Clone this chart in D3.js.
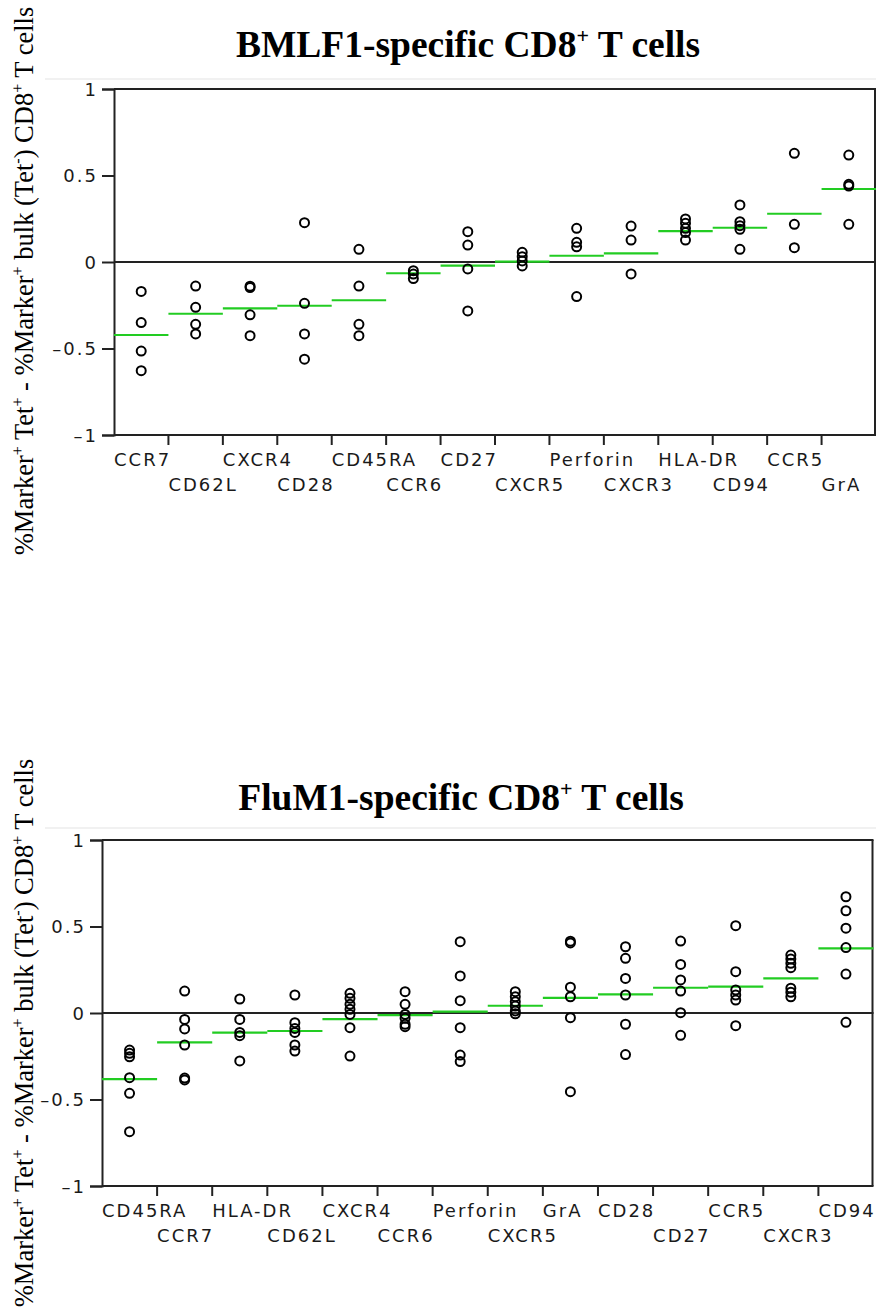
<!DOCTYPE html>
<html>
<head>
<meta charset="utf-8">
<script src="https://cdn.jsdelivr.net/npm/d3@7"></script>
<style>
  body { margin: 0; background: #fff; }
  svg { display: block; }
  .tick-label { font-family: "DejaVu Sans", sans-serif; font-size: 18px; letter-spacing: 2px; fill: #1a1a1a; }
  .title { font-family: "Liberation Serif", serif; font-weight: bold; font-size: 37.5px; fill: #000; }
  .ytitle { font-family: "Liberation Serif", serif; font-size: 26.5px; fill: #000; }
</style>
</head>
<body>
<div id="chart"></div>
<script>
// BMLF1 panel
const bmlfMarkers = ["CCR7", "CD62L", "CXCR4", "CD28", "CD45RA", "CCR6", "CD27", "CXCR5", "Perforin", "CXCR3", "HLA-DR", "CD94", "CCR5", "GrA"];
const bmlfValues = [
    [-0.17, -0.35, -0.515, -0.628],
    [-0.139, -0.262, -0.36, -0.416],
    [-0.14, -0.148, -0.305, -0.426],
    [0.227, -0.239, -0.416, -0.562],
    [0.073, -0.139, -0.36, -0.426],
    [-0.05, -0.07, -0.096],
    [0.175, 0.098, -0.04, -0.283],
    [0.056, 0.031, 0.006, -0.023],
    [0.195, 0.114, 0.088, -0.2],
    [0.208, 0.127, -0.069],
    [0.249, 0.224, 0.195, 0.17, 0.127],
    [0.33, 0.233, 0.21, 0.189, 0.073],
    [0.628, 0.218, 0.083],
    [0.618, 0.449, 0.439, 0.218]
];
const bmlfMeans = [-0.422, -0.299, -0.268, -0.253, -0.221, -0.065, -0.021, 0.002, 0.036, 0.05, 0.179, 0.198, 0.279, 0.422];

// FluM1 panel
const fluMarkers = ["CD45RA", "CCR7", "HLA-DR", "CD62L", "CXCR4", "CCR6", "Perforin", "CXCR5", "GrA", "CD28", "CD27", "CCR5", "CXCR3", "CD94"];
const fluValues = [
    [-0.214, -0.233, -0.253, -0.374, -0.464, -0.686],
    [0.127, -0.037, -0.092, -0.185, -0.376, -0.387],
    [0.081, -0.037, -0.112, -0.131, -0.277],
    [0.104, -0.056, -0.089, -0.112, -0.185, -0.22],
    [0.114, 0.085, 0.05, 0.021, -0.008, -0.085, -0.249],
    [0.123, 0.05, -0.008, -0.031, -0.065, -0.079],
    [0.412, 0.214, 0.071, -0.085, -0.243, -0.281],
    [0.123, 0.094, 0.065, 0.04, 0.012, -0.005],
    [0.415, 0.405, 0.149, 0.094, -0.027, -0.455],
    [0.383, 0.316, 0.2, 0.104, -0.065, -0.24],
    [0.416, 0.281, 0.191, 0.127, 0.002, -0.129],
    [0.505, 0.239, 0.133, 0.104, 0.075, -0.073],
    [0.335, 0.312, 0.287, 0.262, 0.143, 0.12, 0.094],
    [0.672, 0.591, 0.49, 0.378, 0.225, -0.054]
];
const fluMeans = [-0.382, -0.17, -0.114, -0.104, -0.035, -0.012, 0.008, 0.042, 0.088, 0.108, 0.146, 0.152, 0.2, 0.374];

const yTicks = [-1, -0.5, 0, 0.5, 1];
const yTitleParts = [
    { t: "%Marker" }, { t: "+", sup: true }, { t: " Tet" }, { t: "+", sup: true },
    { t: " - %Marker" }, { t: "+", sup: true }, { t: " bulk (Tet" }, { t: "-", sup: true },
    { t: ") CD8" }, { t: "+", sup: true }, { t: " T cells" }
];

const panels = [
    { name: "BMLF1", markers: bmlfMarkers, values: bmlfValues, means: bmlfMeans,
      left: 114, right: 876, top: 89, bottom: 435, titleX: 468, titleY: 57, yTitleY: 281, ghostY: 79 },
    { name: "FluM1", markers: fluMarkers, values: fluValues, means: fluMeans,
      left: 102, right: 873.5, top: 840, bottom: 1186, titleX: 461, titleY: 810, yTitleY: 1033, ghostY: 828 }
];

const svg = d3.select("#chart").append("svg")
    .attr("width", 876)
    .attr("height", 1313);

// tekst met superscript stukjes
function richText(sel, parts, supSize, lift) {
    let up = false;
    parts.forEach(p => {
        const ts = sel.append("tspan").text(p.t);
        if (p.sup && !up) { ts.attr("dy", -lift).attr("font-size", supSize); up = true; }
        else if (!p.sup && up) { ts.attr("dy", lift); up = false; }
    });
}

function drawPanel(p) {
    const g = svg.append("g");
    const x = d3.scaleBand().domain(p.markers).range([p.left, p.right]).padding(0);
    const y = d3.scaleLinear().domain([-1, 1]).range([p.bottom, p.top]);

    // vage lijn boven het kader
    g.append("line")
        .attr("x1", 45).attr("x2", 876)
        .attr("y1", p.ghostY).attr("y2", p.ghostY)
        .attr("stroke", "#f1f1f1").attr("stroke-width", 2);

    // titel
    const title = g.append("text")
        .attr("class", "title")
        .attr("x", p.titleX).attr("y", p.titleY)
        .attr("text-anchor", "middle");
    richText(title, [{ t: p.name + "-specific CD8" }, { t: "+", sup: true }, { t: " T cells" }], "22px", 14);

    // y-as titel
    const yt = g.append("text")
        .attr("class", "ytitle")
        .attr("text-anchor", "middle")
        .attr("transform", `translate(33,${p.yTitleY}) rotate(-90)`);
    richText(yt, yTitleParts, "16px", 10);

    // kader
    g.append("line").attr("x1", p.left).attr("x2", p.right).attr("y1", p.top).attr("y2", p.top)
        .attr("stroke", "#222").attr("stroke-width", 2);
    g.append("line").attr("x1", p.right - 1).attr("x2", p.right - 1).attr("y1", p.top).attr("y2", p.bottom)
        .attr("stroke", "#222").attr("stroke-width", 2);

    // y-as
    const yAxis = g.append("g")
        .attr("transform", `translate(${p.left},0)`)
        .call(d3.axisLeft(y).tickValues(yTicks).tickSize(12).tickPadding(4)
            .tickFormat(d => d3.format("")(d).replace("-", "\u2013").replace("\u2212", "\u2013")));
    yAxis.select(".domain").attr("stroke", "#222").attr("stroke-width", 2);
    yAxis.selectAll(".tick line").attr("stroke", "#222").attr("stroke-width", 2);
    yAxis.selectAll(".tick text").attr("class", "tick-label").attr("font-size", null).attr("font-family", null)
        .attr("fill", null).attr("dy", "0.36em");

    // x-as
    g.append("line").attr("x1", p.left).attr("x2", p.right).attr("y1", p.bottom).attr("y2", p.bottom)
        .attr("stroke", "#222").attr("stroke-width", 2);
    g.selectAll(".xtick")
        .data(p.markers.slice(1))
        .enter()
        .append("line")
        .attr("x1", d => x(d)).attr("x2", d => x(d))
        .attr("y1", p.bottom).attr("y2", p.bottom + 10)
        .attr("stroke", "#222").attr("stroke-width", 2);

    // labels: eerste rij als het past, anders tweede rij
    const rowEnd = [-Infinity, -Infinity];
    g.selectAll(".xlabel")
        .data(p.markers)
        .enter()
        .append("text")
        .attr("class", "tick-label")
        .attr("x", d => x(d))
        .text(d => d)
        .each(function (d) {
            const x0 = x(d);
            const w = this.getComputedTextLength();
            const row = x0 >= rowEnd[0] ? 0 : 1;
            rowEnd[row] = x0 + w;
            d3.select(this).attr("y", p.bottom + (row === 0 ? 31 : 56));
        });

    // nullijn
    g.append("line").attr("x1", p.left).attr("x2", p.right).attr("y1", y(0)).attr("y2", y(0))
        .attr("stroke", "#222").attr("stroke-width", 2);

    // gemiddelden
    g.selectAll(".mean")
        .data(p.markers.map((m, i) => ({ m, v: p.means[i] })))
        .enter()
        .append("line")
        .attr("x1", d => x(d.m)).attr("x2", d => x(d.m) + x.bandwidth())
        .attr("y1", d => y(d.v)).attr("y2", d => y(d.v))
        .attr("stroke", "#22cc22").attr("stroke-width", 2.2);

    // punten
    g.selectAll(".pt")
        .data(p.markers.flatMap((m, i) => p.values[i].map(v => ({ m, v }))))
        .enter()
        .append("circle")
        .attr("cx", d => x(d.m) + x.bandwidth() / 2)
        .attr("cy", d => y(d.v))
        .attr("r", 4.5)
        .attr("fill", "none")
        .attr("stroke", "#000")
        .attr("stroke-width", 2);
}

panels.forEach(drawPanel);
</script>
</body>
</html>
